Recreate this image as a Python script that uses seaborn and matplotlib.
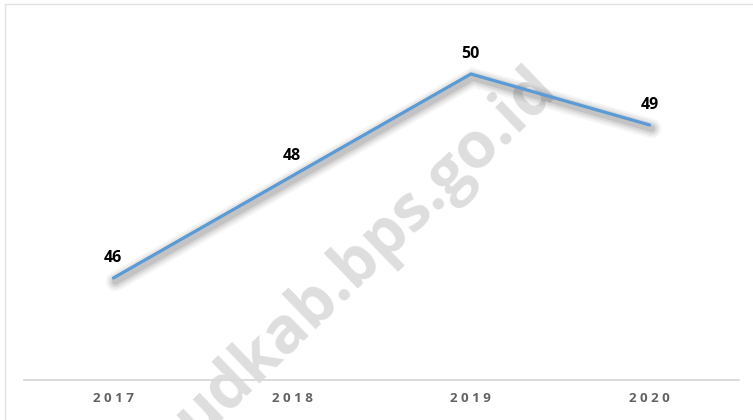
import matplotlib
matplotlib.use("Agg")
import matplotlib.pyplot as plt
import matplotlib.patheffects as pe
from matplotlib.patches import Rectangle
import seaborn as sns
import pandas as pd

years = ["2017", "2018", "2019", "2020"]
values = [46, 48, 50, 49]
labels = ["46", "48", "50", "49"]

sns.set_style("white")
plt.rcParams['font.family'] = ['Open Sans', 'DejaVu Sans']

df = pd.DataFrame({"year": years, "value": values})

fig = plt.figure(figsize=(7.53, 4.2), dpi=100)
W, H = 753, 420
ax = fig.add_axes([24 / W, 40 / H, 715 / W, 376 / H])
ax.patch.set_alpha(0)

shadow = [
    pe.SimpleLineShadow(offset=(1.5, -2.5), shadow_color='#000000', alpha=0.04, linewidth=14),
    pe.SimpleLineShadow(offset=(1.5, -2.5), shadow_color='#000000', alpha=0.05, linewidth=11),
    pe.SimpleLineShadow(offset=(1.5, -2.5), shadow_color='#000000', alpha=0.07, linewidth=8),
    pe.SimpleLineShadow(offset=(1.5, -2.5), shadow_color='#000000', alpha=0.09, linewidth=5),
    pe.Normal(),
]

sns.lineplot(data=df, x="year", y="value", ax=ax, color="#5b9bd5", linewidth=2.3,
             sort=False, path_effects=shadow, solid_joinstyle='miter')

for i, (v, lab) in enumerate(zip(values, labels)):
    ax.annotate(lab, (i, v), xytext=(0, 14.5), textcoords='offset points',
                ha='center', va='center', fontsize=11.5, fontweight='bold',
                color='#000000')

ax.set_xlim(-0.5, 3.5)
ax.set_ylim(44, 44 + 376 / 51)
ax.set_yticks([])
ax.set_xlabel("")
ax.set_ylabel("")
for s in ["top", "right", "left"]:
    ax.spines[s].set_visible(False)
ax.spines["bottom"].set_color("#d9d9d9")
ax.spines["bottom"].set_linewidth(1.3)
ax.tick_params(axis='x', length=0, pad=9)
ax.set_xticks(range(len(years)))
ax.set_xticklabels([" ".join(y) for y in years], fontsize=9.6,
                   fontweight='bold', color='#626262')

# watermark
fig.text(377 / W, 1 - 266 / H, "udkab.bps.go.id", rotation=44, ha='center', va='baseline',
         fontsize=46, fontweight='bold', color='#dedede', zorder=-1,
         rotation_mode='anchor')

# outer border
fig.patches.append(Rectangle((5 / W, -0.1), 1.2, 1 - 4 / H + 0.1, transform=fig.transFigure,
                             fill=False, edgecolor='#e2e2e2', linewidth=1, zorder=-2))

fig.savefig("out.png", dpi=100)
